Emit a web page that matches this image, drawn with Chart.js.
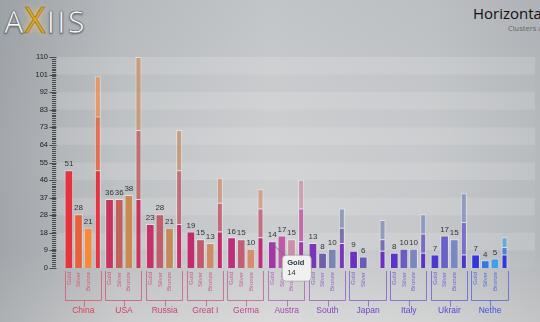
<!DOCTYPE html>
<html>
<head>
<meta charset="utf-8">
<title>Medals - clusters and stacks</title>
<script src="https://cdn.jsdelivr.net/npm/chart.js@4.4.1/dist/chart.umd.min.js"></script>
<style>
  html, body { margin: 0; padding: 0; }
  body {
    width: 540px; height: 322px; overflow: hidden; position: relative;
    background:
      linear-gradient(to right, rgba(70,80,90,0.30) 0%, rgba(70,80,90,0.10) 22%, rgba(0,0,0,0) 50%, rgba(70,80,90,0.05) 80%, rgba(70,80,90,0.16) 100%),
      linear-gradient(to bottom, #c2c5c8 0%, #cbcdcf 45%, #c9cbcd 78%, #dadada 100%);
    font-family: 'Liberation Sans', Arial, sans-serif;
  }
  #logo {
    position: absolute; left: 4px; top: -5px;
    font: 400 31px 'Open Sans', sans-serif; letter-spacing: 2px;
    color: #f6f7f8; -webkit-text-stroke: 0.7px #6c7074;
    text-shadow: 0 1px 2px rgba(0,0,0,0.45);
  }
  #logo .x {
    font-size: 36px; display: inline-block; margin: 0 -1px;
    color: #e0a62a; -webkit-text-stroke: 0.6px #8a6a20;
    text-shadow: 0 0 6px rgba(255,210,100,0.95);
  }
  #title { position: absolute; left: 473px; top: 3px; font: 15px 'Open Sans', sans-serif; color: #111; white-space: nowrap; }
  #subtitle { position: absolute; left: 508px; top: 23px; font: 7.5px 'Open Sans', sans-serif; color: #666; white-space: nowrap; }
  #chart { position: absolute; left: 0; top: 0; }
</style>
</head>
<body>
<div id="logo">A<span class="x">X</span>IIS</div>
<div id="title">Horizontal</div>
<div id="subtitle">Clusters and Stacks</div>
<canvas id="chart" width="540" height="322"></canvas>
<script>
// Data
const countries = ['China', 'USA', 'Russia', 'Great I', 'Germa', 'Austra', 'South', 'Japan', 'Italy', 'Ukrair', 'Nethe'];
const gold   = [51, 36, 23, 19, 16, 14, 13, 9, 8, 7, 7];
const silver = [28, 36, 28, 15, 15, 17, 8, 6, 10, 17, 4];
const bronze = [21, 38, 21, 13, 10, 15, 10, 10, 10, 15, 5];
// the single Bronze column for Japan is not drawn in the picture
const bronzeColumn = [21, 38, 21, 13, 10, 15, 10, null, 10, 15, 5];
const medalNames = ['Gold', 'Silver', 'Bronze'];
const yTickLabels = ['0', '9', '18', '28', '37', '46', '55', '64', '73', '83', '92', '101', '110'];
const yMax = 110;
const yStep = yMax / (yTickLabels.length - 1);

// Colours, one per cluster
const goldColors   = ['#e5333f', '#c9335e', '#c53268', '#c02c6c', '#bd2f7a', '#a436a8', '#7a36b8', '#6c30c0', '#5c32c8', '#4e34d0', '#3434e0'];
const silverColors = ['#e9613a', '#c2605e', '#bf5f6c', '#c05a6c', '#c25f74', '#bf5aa6', '#6f5eaa', '#6a5cb2', '#6a5cc0', '#6a62c6', '#3577e2'];
const bronzeColors = ['#f6893a', '#c98a52', '#c38a5c', '#cf8a68', '#d58d6c', '#cc8fa6', '#7a86b2', '#7a86b6', '#7a88bc', '#7a88c2', '#3ea0ea'];
const labelColors  = ['#e0405a', '#d83a66', '#d04070', '#c8407a', '#c04488', '#a848b0', '#8848c0', '#7048c8', '#6048d0', '#5048d8', '#4050e0'];

function fade(hex, a) {
  const n = parseInt(hex.slice(1), 16);
  return `rgba(${n >> 16}, ${(n >> 8) & 255}, ${n & 255}, ${a})`;
}

const FONT = "'Liberation Sans', Arial, sans-serif";

// Tooltip sits below and right of the bar it belongs to
Chart.Tooltip.positioners.medal = function (items) {
  if (!items.length) return false;
  const el = items[0].element;
  return { x: el.x + 14, y: el.y + 14 };
};

const medalPlugin = {
  id: 'medals',
  beforeDatasetsDraw(chart) {
    const { ctx, scales: { y } } = chart;
    ctx.save();
    // horizontal bands
    for (let i = 0; i < yTickLabels.length - 1; i++) {
      const yTop = y.getPixelForValue((i + 1) * yStep);
      const yBot = y.getPixelForValue(i * yStep);
      ctx.fillStyle = (yTickLabels.length - 2 - i) % 2 === 0 ? 'rgba(255,255,255,0.15)' : 'rgba(255,255,255,0.04)';
      ctx.fillRect(57, yTop, 535 - 57, yBot - yTop);
    }
    // ruler on the value axis
    ctx.strokeStyle = '#4a4d50';
    ctx.lineWidth = 1;
    ctx.beginPath();
    for (let v = 0; v <= yMax; v++) {
      const py = Math.round(y.getPixelForValue(v)) + 0.5;
      ctx.moveTo(52, py); ctx.lineTo(56, py);
    }
    yTickLabels.forEach((t, i) => {
      const py = Math.round(y.getPixelForValue(i * yStep)) + 0.5;
      ctx.moveTo(49.5, py); ctx.lineTo(56.5, py);
    });
    ctx.stroke();
    ctx.restore();
  },
  afterDatasetsDraw(chart) {
    const { ctx, chartArea } = chart;
    const bottom = chartArea.bottom;
    ctx.save();

    // values above the single columns
    ctx.font = `8px ${FONT}`;
    ctx.fillStyle = '#333';
    ctx.textAlign = 'center';
    ctx.textBaseline = 'bottom';
    [0, 1, 2].forEach(di => {
      chart.getDatasetMeta(di).data.forEach((bar, i) => {
        const v = chart.data.datasets[di].data[i];
        if (v == null) return;
        ctx.fillText(v, bar.x, bar.y - 2);
      });
    });

    // rotated medal names under the columns
    ctx.font = `6px ${FONT}`;
    ctx.textAlign = 'right';
    ctx.textBaseline = 'middle';
    [0, 1, 2].forEach(di => {
      chart.getDatasetMeta(di).data.forEach((bar, i) => {
        if (chart.data.datasets[di].data[i] == null) return;
        ctx.save();
        ctx.translate(bar.x, bottom + 4);
        ctx.rotate(-Math.PI / 2);
        ctx.fillStyle = fade(labelColors[i], 0.8);
        ctx.fillText(medalNames[di], 0, 0);
        ctx.restore();
      });
    });

    // brackets around each cluster
    const first = chart.getDatasetMeta(0).data;
    const last = chart.getDatasetMeta(5).data;
    ctx.lineWidth = 1;
    first.forEach((bar, i) => {
      const left = Math.round(bar.x - bar.width / 2) + 0.5;
      const right = Math.round(last[i].x + last[i].width / 2) + 0.5;
      const mid = Math.round((left + right) / 2) + 0.5;
      const base = bottom + 32.5;
      ctx.strokeStyle = fade(labelColors[i], 0.65);
      ctx.beginPath();
      ctx.moveTo(left, bottom + 3);
      ctx.lineTo(left, base);
      ctx.lineTo(right, base);
      ctx.lineTo(right, bottom + 3);
      ctx.moveTo(mid, base);
      ctx.lineTo(mid, base + 6);
      ctx.stroke();
    });

    // connector from the hovered column to its tooltip
    const active = chart.tooltip.getActiveElements();
    if (active.length) {
      const el = active[0].element;
      ctx.strokeStyle = 'rgba(110,110,110,0.8)';
      ctx.beginPath();
      ctx.moveTo(el.x, el.y + 3);
      ctx.lineTo(el.x + 14, el.y + 15);
      ctx.stroke();
    }
    ctx.restore();
  }
};

const border = 'rgba(255,255,255,0.45)';

const chart = new Chart(document.getElementById('chart'), {
  type: 'bar',
  data: {
    labels: countries,
    datasets: [
      { label: 'Gold', stack: 'gold', data: gold, backgroundColor: goldColors },
      { label: 'Silver', stack: 'silver', data: silver, backgroundColor: silverColors },
      { label: 'Bronze', stack: 'bronze', data: bronzeColumn, backgroundColor: bronzeColors },
      { label: 'Gold', stack: 'total', data: gold, backgroundColor: goldColors, maxBarThickness: 6 },
      { label: 'Silver', stack: 'total', data: silver, backgroundColor: silverColors.map(c => fade(c, 0.85)), maxBarThickness: 6 },
      { label: 'Bronze', stack: 'total', data: bronze, backgroundColor: bronzeColors.map(c => fade(c, 0.7)), maxBarThickness: 6 }
    ]
  },
  options: {
    responsive: false,
    animation: false,
    layout: { padding: { top: 57, right: 13, bottom: 0, left: 0 } },
    datasets: {
      bar: {
        categoryPercentage: 0.948,
        barPercentage: 0.9,
        borderColor: border,
        borderWidth: 1
      }
    },
    scales: {
      x: {
        stacked: true,
        grid: { display: false, drawTicks: false },
        border: { display: false },
        afterFit(scale) { scale.height = 54; },
        ticks: {
          autoSkip: false,
          maxRotation: 0,
          padding: 38,
          color: c => labelColors[c.index],
          font: { family: FONT, size: 8.5 }
        }
      },
      y: {
        stacked: true,
        min: 0,
        max: yMax,
        grid: { display: false, drawTicks: false },
        border: { display: false },
        afterFit(scale) { scale.width = 63; },
        afterBuildTicks(scale) {
          scale.ticks = yTickLabels.map((t, i) => ({ value: i * yStep }));
        },
        ticks: {
          padding: 15,
          color: '#222',
          font: { family: FONT, size: 7.5 },
          callback: (v, i) => yTickLabels[i]
        }
      }
    },
    plugins: {
      legend: { display: false },
      tooltip: {
        position: 'medal',
        xAlign: 'left',
        yAlign: 'top',
        caretSize: 0,
        caretPadding: 0,
        cornerRadius: 4,
        backgroundColor: 'rgba(243,243,243,0.96)',
        borderColor: 'rgba(140,140,140,0.6)',
        borderWidth: 1,
        padding: { top: 4, bottom: 4, left: 5, right: 7 },
        titleColor: '#2b3b46',
        titleFont: { family: FONT, size: 7.5, weight: 'bold', lineHeight: 1 },
        titleMarginBottom: 3,
        bodyColor: '#333',
        bodyFont: { family: FONT, size: 7.5, lineHeight: 1 },
        displayColors: false,
        callbacks: {
          title: items => items[0].dataset.label,
          label: item => String(item.raw)
        }
      }
    }
  },
  plugins: [medalPlugin]
});

// Show the tooltip that is open in the picture
const tipIndex = countries.indexOf('Austra');
const tipBar = chart.getDatasetMeta(0).data[tipIndex];
chart.tooltip.setActiveElements([{ datasetIndex: 0, index: tipIndex }], { x: tipBar.x, y: tipBar.y });
chart.update();
</script>
</body>
</html>
